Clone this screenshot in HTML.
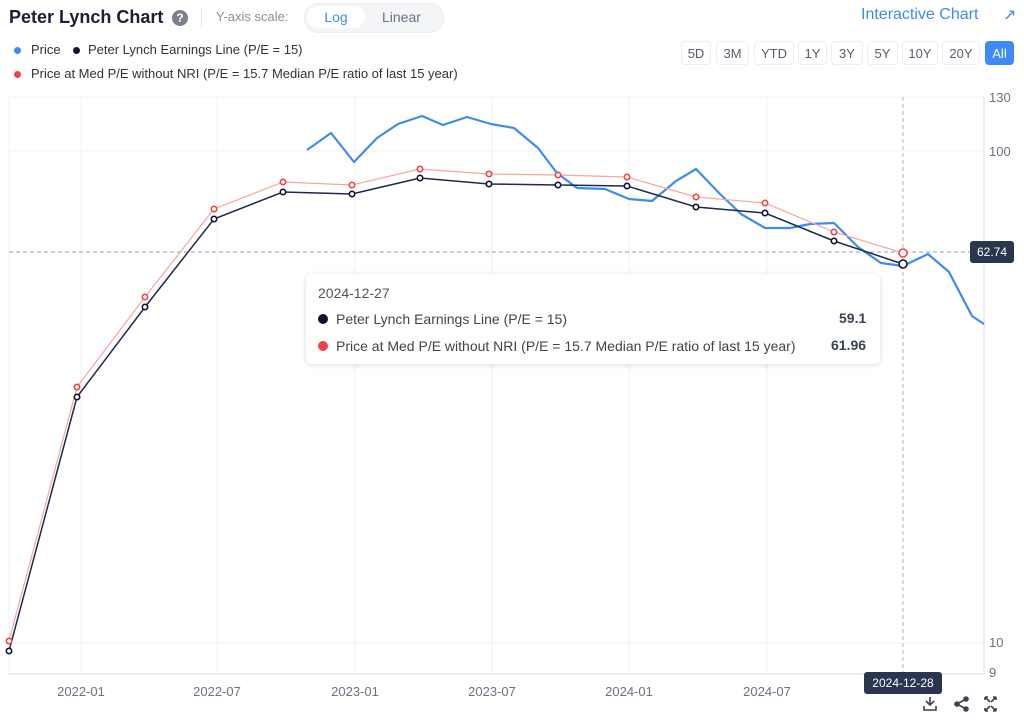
<!DOCTYPE html>
<html><head><meta charset="utf-8"><style>
body{margin:0;width:1024px;height:720px;background:#fff;font-family:"Liberation Sans",sans-serif;position:relative;overflow:hidden}
.a{position:absolute;white-space:nowrap}
.btn{position:absolute;top:41px;height:24px;border:1px solid #eceef2;border-radius:4px;font-size:13px;color:#555d6e;text-align:center;line-height:24px;box-sizing:border-box}
</style></head><body>
<div class="a" style="left:9px;top:7px;font-size:18px;font-weight:bold;color:#1a1f36">Peter Lynch Chart</div>
<div class="a" style="left:172px;top:10px;width:16px;height:16px;border-radius:50%;background:#7a7f8c;color:#fff;font-size:12px;font-weight:bold;text-align:center;line-height:16px">?</div>
<div class="a" style="left:201px;top:8px;width:1px;height:20px;background:#e5e7eb"></div>
<div class="a" style="left:216px;top:9px;font-size:13px;color:#8a8f9c">Y-axis scale:</div>
<div class="a" style="left:304px;top:3px;width:138px;height:28px;border-radius:14px;background:#f4f5f7;border:1px solid #eceef2"></div>
<div class="a" style="left:307px;top:6px;width:58px;height:22px;border-radius:11px;background:#fff;color:#3d8bf5;font-size:14px;text-align:center;line-height:22px">Log</div>
<div class="a" style="left:382px;top:9px;font-size:14px;color:#6b7280">Linear</div>
<div class="a" style="left:861px;top:6px;font-size:16px;color:#3d8bf5">Interactive Chart</div>
<div class="a" style="left:1003px;top:5px;font-size:16px;color:#3d8bf5">↗</div>
<div class="a" style="left:14px;top:47px;width:7px;height:7px;border-radius:50%;background:#3d8bf5"></div>
<div class="a" style="left:31px;top:42px;font-size:13px;color:#333">Price</div>
<div class="a" style="left:73px;top:47px;width:7px;height:7px;border-radius:50%;background:#0d1533"></div>
<div class="a" style="left:88px;top:42px;font-size:13px;color:#333">Peter Lynch Earnings Line (P/E = 15)</div>
<div class="a" style="left:14px;top:71px;width:7px;height:7px;border-radius:50%;background:#ef4444"></div>
<div class="a" style="left:31px;top:66px;font-size:13px;color:#333">Price at Med P/E without NRI (P/E = 15.7 Median P/E ratio of last 15 year)</div>
<div class="btn" style="left:681px;width:30px">5D</div>
<div class="btn" style="left:716px;width:33px">3M</div>
<div class="btn" style="left:754px;width:40px">YTD</div>
<div class="btn" style="left:798px;width:29px">1Y</div>
<div class="btn" style="left:831px;width:32px">3Y</div>
<div class="btn" style="left:867px;width:31px">5Y</div>
<div class="btn" style="left:902px;width:36px">10Y</div>
<div class="btn" style="left:942px;width:38px">20Y</div>
<div class="btn" style="left:985px;width:29px;background:#3d8bf5;color:#fff;border-color:#3d8bf5">All</div>
<svg class="a" style="left:0;top:0" width="1024" height="720">
<g stroke="#eef0f5" stroke-width="1">
<line x1="9" y1="97" x2="984" y2="97"/><line x1="9" y1="151" x2="984" y2="151"/><line x1="9" y1="643" x2="984" y2="643"/>
<line x1="81" y1="97" x2="81" y2="674"/><line x1="217" y1="97" x2="217" y2="674"/><line x1="355" y1="97" x2="355" y2="674"/><line x1="492" y1="97" x2="492" y2="674"/><line x1="629" y1="97" x2="629" y2="674"/><line x1="767" y1="97" x2="767" y2="674"/>
<line x1="9" y1="97" x2="9" y2="674"/>
</g>
<line x1="9" y1="674" x2="984" y2="674" stroke="#d9dce6"/>
<line x1="984" y1="97" x2="984" y2="674" stroke="#d9dce6"/>
<line x1="9" y1="252" x2="984" y2="252" stroke="#9a9ea8" stroke-dasharray="4,3"/>
<line x1="903" y1="97" x2="903" y2="674" stroke="#b0b4bd" stroke-dasharray="4,3"/>
<g font-size="13" fill="#6b7280" font-family="Liberation Sans,sans-serif">
<text x="989" y="102">130</text><text x="989" y="156">100</text><text x="989" y="647">10</text><text x="989" y="677">9</text>
<g text-anchor="middle"><text x="81" y="696">2022-01</text><text x="217" y="696">2022-07</text><text x="355" y="696">2023-01</text><text x="492" y="696">2023-07</text><text x="629" y="696">2024-01</text><text x="767" y="696">2024-07</text></g>
</g>
<polyline fill="none" stroke="#3d8bf5" stroke-width="2.2" stroke-linejoin="round" points="307,150 331,133 354,162 377,138 398,124 422,116 443,125 467,117 491,124 514,128 538,148 557,173 577,188 605,189 629,199 652,201 676,181 696,169 719,193 741,214 765,228 790,228 810,224 834,223 858,247 881,263 903,266 928,254 949,272 972,316 984,324"/>
<polyline fill="none" stroke="#f8a5a0" stroke-width="1.2" points="9,641 77,387 145,297 214,209 283,182 352,185 420,169 489,174 558,175 627,177 696,197 765,203 834,232 903,253"/>
<polyline fill="none" stroke="#1e2a4a" stroke-width="1.5" points="9,651 77,397 145,307 214,219 283,192 352,194 420,178 489,184 558,185 627,186 696,207 765,213 834,241 903,264"/>
<g fill="#fff" stroke="#ef4444" stroke-width="1.6">
<circle cx="9" cy="641" r="2.7"/><circle cx="77" cy="387" r="2.7"/><circle cx="145" cy="297" r="2.7"/><circle cx="214" cy="209" r="2.7"/><circle cx="283" cy="182" r="2.7"/><circle cx="352" cy="185" r="2.7"/><circle cx="420" cy="169" r="2.7"/><circle cx="489" cy="174" r="2.7"/><circle cx="558" cy="175" r="2.7"/><circle cx="627" cy="177" r="2.7"/><circle cx="696" cy="197" r="2.7"/><circle cx="765" cy="203" r="2.7"/><circle cx="834" cy="232" r="2.7"/><circle cx="903" cy="253" r="4"/>
</g>
<g fill="#fff" stroke="#0d1533" stroke-width="1.6">
<circle cx="9" cy="651" r="2.7"/><circle cx="77" cy="397" r="2.7"/><circle cx="145" cy="307" r="2.7"/><circle cx="214" cy="219" r="2.7"/><circle cx="283" cy="192" r="2.7"/><circle cx="352" cy="194" r="2.7"/><circle cx="420" cy="178" r="2.7"/><circle cx="489" cy="184" r="2.7"/><circle cx="558" cy="185" r="2.7"/><circle cx="627" cy="186" r="2.7"/><circle cx="696" cy="207" r="2.7"/><circle cx="765" cy="213" r="2.7"/><circle cx="834" cy="241" r="2.7"/><circle cx="903" cy="264" r="4"/>
</g>
<rect x="970" y="241" width="44" height="22" rx="3" fill="#2a3650"/>
<text x="992" y="256" text-anchor="middle" font-size="12" fill="#fff" font-family="Liberation Sans,sans-serif">62.74</text>
<rect x="864" y="672" width="78" height="22" rx="3" fill="#2a3650"/>
<text x="903" y="687" text-anchor="middle" font-size="12" fill="#fff" font-family="Liberation Sans,sans-serif">2024-12-28</text>
<g stroke="#3a4256" stroke-width="1.6" fill="none">
<path d="M930 697v8M926 701l4 4 4-4M924 706v4h12v-4"/>
<circle cx="966" cy="699" r="2" fill="#3a4256"/><circle cx="957" cy="704" r="2" fill="#3a4256"/><circle cx="966" cy="709" r="2" fill="#3a4256"/><path d="M966 699l-9 5 9 5"/>
<path d="M985 697l5 5M996 697l-5 5M985 711l5-5M996 711l-5-5M985 697h3M985 697v3M996 697h-3M996 697v3M985 711h3M985 711v-3M996 711h-3M996 711v-3"/>
</g>
</svg>
<div class="a" style="left:306px;top:274px;width:574px;height:90px;background:#fff;border-radius:5px;box-shadow:0 1px 6px rgba(0,0,0,0.15)"></div>
<div class="a" style="left:318px;top:285px;font-size:14px;color:#555">2024-12-27</div>
<div class="a" style="left:318px;top:314px;width:10px;height:10px;border-radius:50%;background:#0d1533"></div>
<div class="a" style="left:336px;top:311px;font-size:14px;color:#444">Peter Lynch Earnings Line (P/E = 15)</div>
<div class="a" style="left:839px;top:310px;font-size:14px;font-weight:bold;color:#3a4256">59.1</div>
<div class="a" style="left:318px;top:341px;width:10px;height:10px;border-radius:50%;background:#ef4444"></div>
<div class="a" style="left:336px;top:338px;font-size:14px;color:#444">Price at Med P/E without NRI (P/E = 15.7 Median P/E ratio of last 15 year)</div>
<div class="a" style="left:831px;top:337px;font-size:14px;font-weight:bold;color:#3a4256">61.96</div>
</body></html>
